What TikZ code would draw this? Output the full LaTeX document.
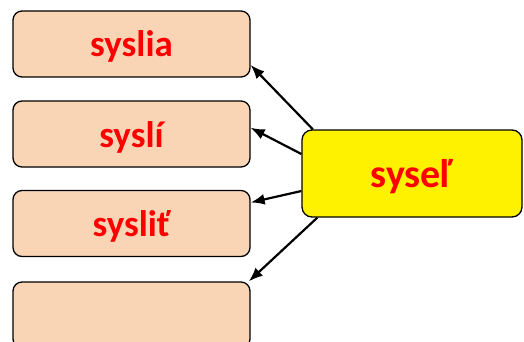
\documentclass[tikz,border=0pt]{standalone}
\usepackage{fontspec}
\setmainfont{Carlito}
\usetikzlibrary{arrows.meta}
\definecolor{peach}{HTML}{FAD5B5}
\tikzset{
  formbox/.style={draw=black, line width=1.3pt, rounded corners=9pt, fill=peach,
    minimum width=237pt, minimum height=66pt, text height=26pt, text depth=0pt,
    text=red, font=\bfseries\fontsize{37}{40}\selectfont},
  rootbox/.style={draw=black, line width=1.3pt, rounded corners=10pt, fill=yellow,
    minimum width=220pt, minimum height=87pt, text height=27pt, text depth=0pt,
    text=red, font=\bfseries\fontsize{40}{44}\selectfont},
  derive/.style={line width=2.2pt, -{Latex[length=14pt,width=11pt]}}
}
\begin{document}
\begin{tikzpicture}[x=1pt,y=-1pt]
		%%%%% START %%%%%
		\useasboundingbox (0,0) rectangle (524,342);
		\clip (0,0) rectangle (524,342);
		
		\node[formbox] (syslia) at (131.5, 44) {syslia};
		\node[formbox] (syslii) at (131.5, 134) {syslí};
		\node[formbox] (syslit) at (131.5, 223.5) {sysliť};
		\node[formbox] (empty) at (131.5, 315) {};
		
		\node[rootbox] (sysel) at (412, 173.5) {syseľ};
		
		\draw[derive] (sysel.156) -- (syslia.-10);
		\draw[derive] (sysel.170) -- (syslii.3);
		\draw[derive] (sysel.189) -- (syslit.10);
		\draw[derive] (sysel.205) -- (empty.16);
		%%%%% END %%%%%
	\end{tikzpicture}
\end{document}
